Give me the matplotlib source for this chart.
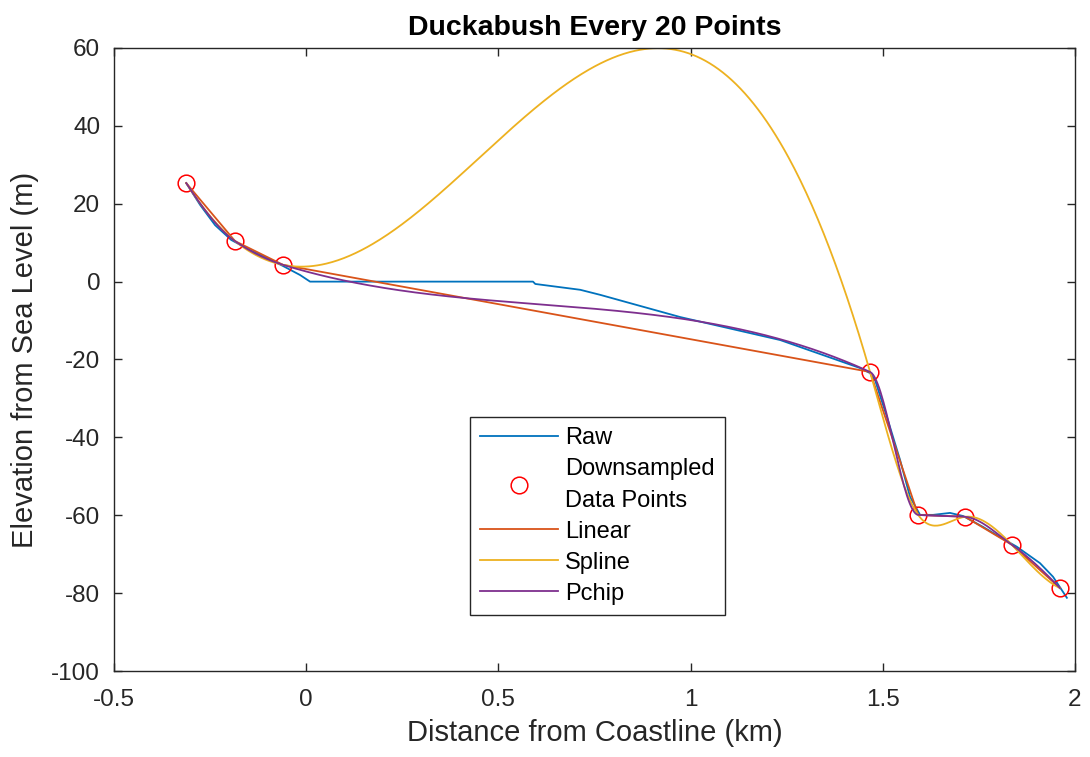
import numpy as np
import matplotlib
matplotlib.use("Agg")
import matplotlib.pyplot as plt

# raw profile (km, m)
raw_x = [-0.312, -0.276, -0.237, -0.195, -0.146, -0.107, -0.060, -0.016, 0.010,
         0.590, 0.596, 0.713, 0.765, 0.973, 1.233, 1.441, 1.467, 1.480, 1.511,
         1.545, 1.571, 1.597, 1.631, 1.675, 1.709, 1.761, 1.805, 1.849, 1.909,
         1.943, 1.979]
raw_y = [25.3, 19.7, 14.5, 10.7, 8.1, 6.3, 4.0, 1.7, 0.0,
         0.0, -0.6, -2.1, -3.4, -9.1, -15.0, -22.2, -23.5, -25.3, -34.8,
         -45.8, -55.3, -59.9, -59.9, -59.4, -60.2, -63.0, -65.6, -68.1, -72.3,
         -75.8, -81.2]

# every 20th point
down_x = [-0.312, -0.185, -0.060, 1.467, 1.592, 1.714, 1.836, 1.961]
down_y = [25.3, 10.4, 4.3, -23.2, -59.9, -60.4, -67.6, -78.7]

x_ticks = [-0.5, 0, 0.5, 1, 1.5, 2]
x_tick_labels = ["-0.5", "0", "0.5", "1", "1.5", "2"]
y_ticks = [-100, -80, -60, -40, -20, 0, 20, 40, 60]


def spline_not_a_knot(x, y, xq):
    x = np.asarray(x, float)
    y = np.asarray(y, float)
    n = len(x)
    h = np.diff(x)
    d = np.diff(y) / h
    A = np.zeros((n, n))
    b = np.zeros(n)
    A[0, 0], A[0, 1], A[0, 2] = h[1], -(h[0] + h[1]), h[0]
    A[-1, -3], A[-1, -2], A[-1, -1] = h[-1], -(h[-2] + h[-1]), h[-2]
    for i in range(1, n - 1):
        A[i, i - 1] = h[i - 1]
        A[i, i] = 2 * (h[i - 1] + h[i])
        A[i, i + 1] = h[i]
        b[i] = 6 * (d[i] - d[i - 1])
    M = np.linalg.solve(A, b)
    k = np.clip(np.searchsorted(x, xq) - 1, 0, n - 2)
    hk = h[k]
    a = x[k + 1] - xq
    c = xq - x[k]
    return (M[k] * a ** 3 / (6 * hk) + M[k + 1] * c ** 3 / (6 * hk)
            + (y[k] / hk - M[k] * hk / 6) * a + (y[k + 1] / hk - M[k + 1] * hk / 6) * c)


def pchip(x, y, xq):
    x = np.asarray(x, float)
    y = np.asarray(y, float)
    n = len(x)
    h = np.diff(x)
    d = np.diff(y) / h
    s = np.zeros(n)
    for k in range(1, n - 1):
        if d[k - 1] * d[k] > 0:
            w1 = 2 * h[k] + h[k - 1]
            w2 = h[k] + 2 * h[k - 1]
            s[k] = (w1 + w2) / (w1 / d[k - 1] + w2 / d[k])

    def end_slope(h0, h1, d0, d1):
        e = ((2 * h0 + h1) * d0 - h0 * d1) / (h0 + h1)
        if np.sign(e) != np.sign(d0):
            e = 0.0
        elif np.sign(d0) != np.sign(d1) and abs(e) > abs(3 * d0):
            e = 3 * d0
        return e

    s[0] = end_slope(h[0], h[1], d[0], d[1])
    s[-1] = end_slope(h[-1], h[-2], d[-1], d[-2])
    k = np.clip(np.searchsorted(x, xq) - 1, 0, n - 2)
    t = (xq - x[k]) / h[k]
    h00 = 2 * t ** 3 - 3 * t ** 2 + 1
    h10 = t ** 3 - 2 * t ** 2 + t
    h01 = -2 * t ** 3 + 3 * t ** 2
    h11 = t ** 3 - t ** 2
    return h00 * y[k] + h10 * h[k] * s[k] + h01 * y[k + 1] + h11 * h[k] * s[k + 1]


plt.rcParams["font.family"] = ["Liberation Sans", "DejaVu Sans"]
plt.rcParams["axes.unicode_minus"] = False

fig = plt.figure(figsize=(10.9, 7.57), dpi=100)
ax = fig.add_axes([0.1046, 0.1136, 0.8816, 0.823])

xq = np.linspace(down_x[0], down_x[-1], 600)

ax.plot(raw_x, raw_y, color="#0072BD", lw=1.3, label="Raw")
ax.plot(down_x, down_y, "o", mfc="none", mec="#FF0000", ms=12, mew=1.1,
        label="Downsampled\nData Points")
ax.plot(down_x, down_y, color="#D95319", lw=1.3, label="Linear")
ax.plot(xq, spline_not_a_knot(down_x, down_y, xq), color="#EDB120", lw=1.3, label="Spline")
ax.plot(xq, pchip(down_x, down_y, xq), color="#7E2F8E", lw=1.3, label="Pchip")

ax.set_xlim(-0.5, 2)
ax.set_ylim(-100, 60)
ax.set_xticks(x_ticks)
ax.set_xticklabels(x_tick_labels)
ax.set_yticks(y_ticks)

for side in ax.spines.values():
    side.set_color("#262626")
    side.set_linewidth(1.0)
ax.tick_params(direction="in", top=True, right=True, length=6, width=1.0,
               colors="#262626", labelsize=17.5)
ax.tick_params(axis="x", pad=13)
ax.tick_params(axis="y", pad=10)

ax.set_xlabel("Distance from Coastline (km)", fontsize=21, color="#262626", labelpad=6)
ax.set_ylabel("Elevation from Sea Level (m)", fontsize=21, color="#262626", labelpad=9)
ax.set_title("Duckabush Every 20 Points", fontsize=20.5, fontweight="bold", pad=9)

leg = ax.legend(loc="upper left", bbox_to_anchor=(0.370, 0.408), borderaxespad=0,
                fontsize=17, frameon=True, fancybox=False, edgecolor="#262626",
                framealpha=1, handlelength=3.3, handletextpad=0.3,
                labelspacing=0.38, borderpad=0.45)
leg.get_frame().set_linewidth(1.0)
for t in leg.get_texts():
    t.set_linespacing(1.55)

fig.savefig("out.png", dpi=100)
